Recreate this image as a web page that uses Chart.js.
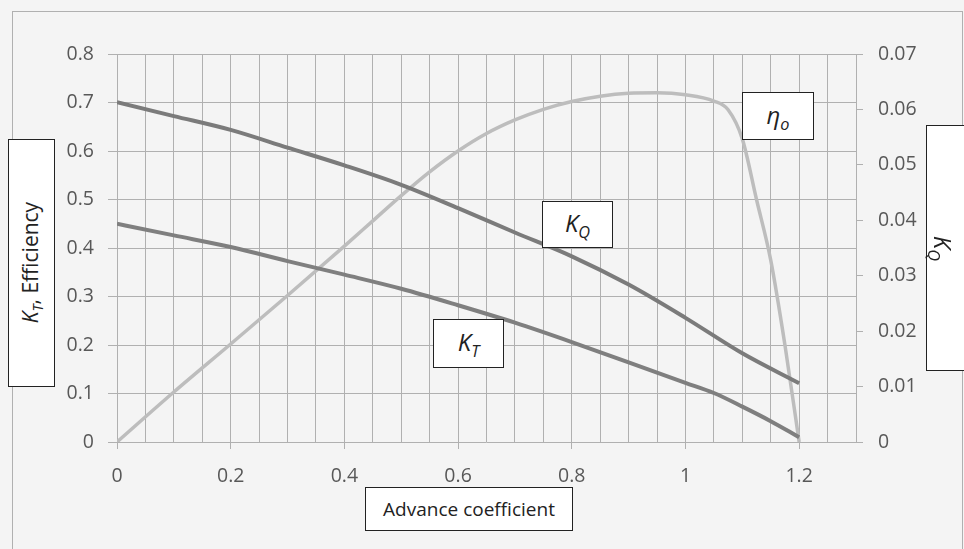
<!DOCTYPE html>
<html>
<head>
<meta charset="utf-8">
<script src="https://cdn.jsdelivr.net/npm/chart.js@4/dist/chart.umd.min.js"></script>
<style>
  html, body { margin: 0; padding: 0; background: #f4f4f4; }
  #wrap { position: relative; width: 964px; height: 549px; overflow: hidden; background: #f4f4f4; font-family: "Open Sans", sans-serif; }
  #frame { position: absolute; left: 12px; top: 11px; width: 949px; height: 560px; border: 1px solid #b0b0b0; }
  canvas { position: absolute; left: 0; top: 0; }
  .box { position: absolute; background: #fff; border: 1.5px solid #222; box-sizing: border-box; color: #222; font-size: 19px; display: flex; align-items: center; justify-content: center; white-space: nowrap; }
  .box i sub { font-size: 0.68em; }
  .rot-l span { transform: rotate(-90deg); display: inline-block; font-size: 21px; }
  .rot-r span { transform: rotate(90deg); display: inline-block; }
  .sym { font-size: 24px; }
</style>
</head>
<body>
<div id="wrap">
  <div id="frame"></div>
  <canvas id="c" width="964" height="549"></canvas>
  <div class="box rot-l" style="left:8px; top:139px; width:47px; height:248px;"><span><i>K<sub>T</sub></i>, Efficiency</span></div>
  <div class="box rot-r" style="left:926px; top:125px; width:50px; height:246px; justify-content:flex-start; padding-left:2px;"><span class="sym"><i>K<sub>Q</sub></i></span></div>
  <div class="box" style="left:365px; top:487px; width:208px; height:44px;">Advance coefficient</div>
  <div class="box sym" style="left:742px; top:92px; width:72px; height:48px;"><i>η<sub>o</sub></i></div>
  <div class="box sym" style="left:542px; top:201px; width:71px; height:47px;"><i>K<sub>Q</sub></i></div>
  <div class="box sym" style="left:433px; top:319px; width:71px; height:49px;"><i>K<sub>T</sub></i></div>
</div>
<script>
// Advance coefficient J for each series
const ktJ = [0, 0.1, 0.2, 0.3, 0.4, 0.5, 0.6, 0.7, 0.8, 0.9, 1.0, 1.05, 1.1, 1.15, 1.2];
const ktValues = [0.450, 0.426, 0.402, 0.373, 0.345, 0.316, 0.282, 0.246, 0.206, 0.164, 0.122, 0.101, 0.073, 0.043, 0.010];

// K_Q is read on the right-hand axis
const kqJ = [0, 0.1, 0.2, 0.3, 0.4, 0.5, 0.6, 0.7, 0.8, 0.9, 1.0, 1.1, 1.2];
const kqValues = [0.0613, 0.0588, 0.0563, 0.0531, 0.0499, 0.0464, 0.0422, 0.0378, 0.0335, 0.0284, 0.0224, 0.0160, 0.0106];

const etaJ = [0, 0.1, 0.2, 0.3, 0.4, 0.45, 0.5, 0.55, 0.6, 0.65, 0.7, 0.75, 0.8, 0.85, 0.9, 0.95, 1.0, 1.05, 1.075, 1.1, 1.125, 1.15, 1.175, 1.2];
const etaValues = [0, 0.103, 0.202, 0.302, 0.404, 0.456, 0.508, 0.557, 0.600, 0.636, 0.664, 0.686, 0.702, 0.713, 0.719, 0.720, 0.716, 0.703, 0.685, 0.625, 0.500, 0.375, 0.200, 0];

const xTickLabels = ["0", "0.2", "0.4", "0.6", "0.8", "1", "1.2"];

const GRID = "#b0b0b0";
const TICK_TEXT = "#585858";
const TICK_FONT = {family: "Open Sans", size: 19.5};

const pts = (xs, ys) => xs.map((x, i) => ({x, y: ys[i]}));
const majorIndex = (v) => {
  const k = v / 0.2;
  return Math.abs(k - Math.round(k)) < 1e-6 ? Math.round(k) : -1;
};

new Chart(document.getElementById("c"), {
  type: "line",
  data: {
    datasets: [
      {
        label: "eta",
        data: pts(etaJ, etaValues),
        yAxisID: "y",
        borderColor: "#bdbdbd",
        borderWidth: 3.5,
        pointRadius: 0,
        cubicInterpolationMode: "monotone",
        order: 2,
      },
      {
        label: "KQ",
        data: pts(kqJ, kqValues),
        yAxisID: "y2",
        borderColor: "#7b7b7b",
        borderWidth: 4,
        pointRadius: 0,
        cubicInterpolationMode: "monotone",
        order: 1,
      },
      {
        label: "KT",
        data: pts(ktJ, ktValues),
        yAxisID: "y",
        borderColor: "#7f7f7f",
        borderWidth: 4,
        pointRadius: 0,
        cubicInterpolationMode: "monotone",
        order: 0,
      },
    ],
  },
  options: {
    responsive: false,
    animation: false,
    layout: {padding: {top: 54, left: 0, right: 0, bottom: 0}},
    plugins: {legend: {display: false}, tooltip: {enabled: false}},
    scales: {
      x: {
        type: "linear",
        min: 0,
        max: 1.3,
        afterFit: (s) => { s.height = 107; },
        ticks: {
          stepSize: 0.05,
          autoSkip: false,
          maxRotation: 0,
          padding: 16,
          color: TICK_TEXT,
          font: TICK_FONT,
          callback: (v) => {
            const k = majorIndex(v);
            return k >= 0 && k < xTickLabels.length ? xTickLabels[k] : "";
          },
        },
        grid: {
          color: GRID,
          lineWidth: 1,
          tickLength: 7,
          tickColor: (ctx) => (ctx.tick && majorIndex(ctx.tick.value) >= 0 && ctx.tick.value < 1.25 ? GRID : "rgba(0,0,0,0)"),
        },
        border: {display: false},
      },
      y: {
        position: "left",
        min: 0,
        max: 0.8,
        afterFit: (s) => { s.width = 117; },
        ticks: {
          stepSize: 0.1,
          padding: 14,
          color: TICK_TEXT,
          font: TICK_FONT,
          callback: (v) => (Math.abs(v) < 1e-9 ? "0" : v.toFixed(1)),
        },
        grid: {color: GRID, lineWidth: 1, tickLength: 9},
        border: {display: false},
      },
      y2: {
        position: "right",
        min: 0,
        max: 0.07,
        afterFit: (s) => { s.width = 108; },
        ticks: {
          stepSize: 0.01,
          padding: 15,
          color: TICK_TEXT,
          font: TICK_FONT,
          callback: (v) => (Math.abs(v) < 1e-9 ? "0" : v.toFixed(2)),
        },
        grid: {drawOnChartArea: false, color: GRID, tickLength: 7},
        border: {display: true, color: GRID, width: 1},
      },
    },
  },
});
</script>
</body>
</html>
